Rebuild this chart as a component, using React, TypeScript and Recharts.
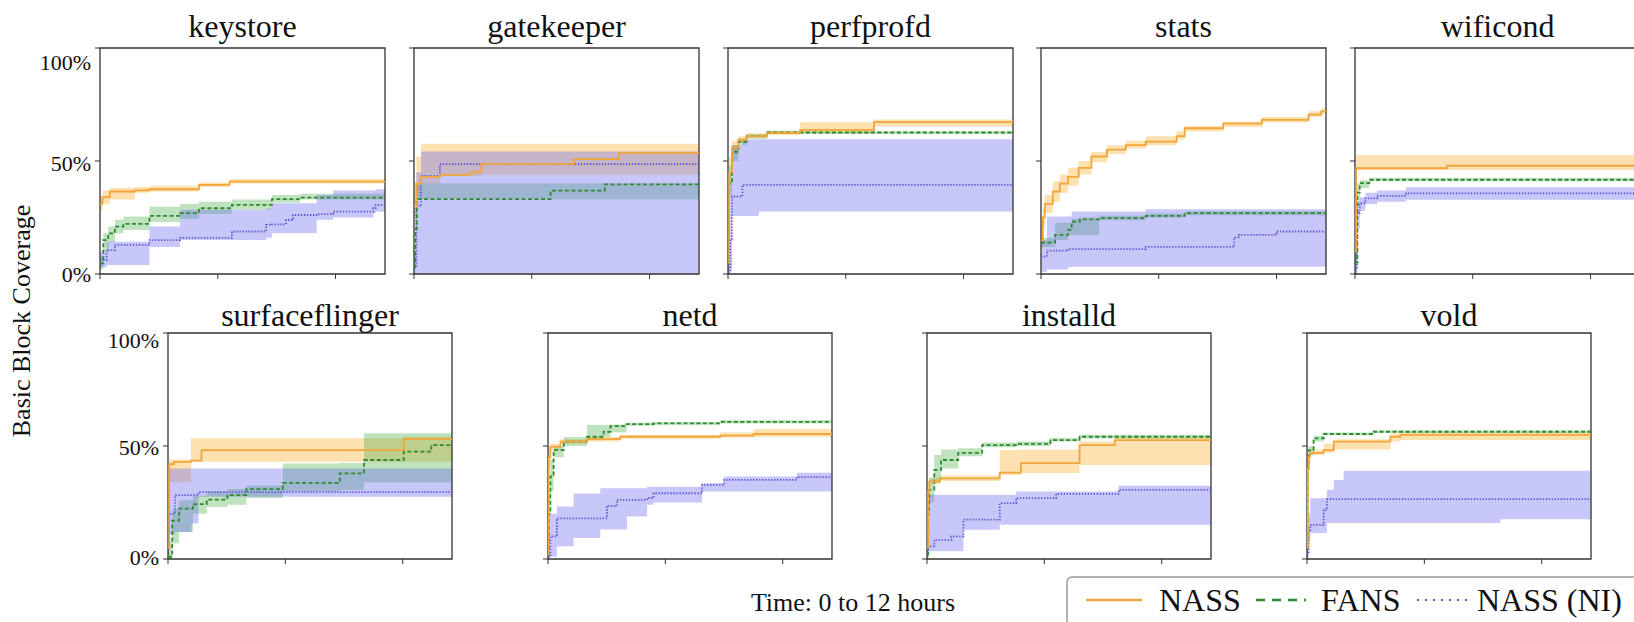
import React from "react";
import { ComposedChart, Line, Area, XAxis, YAxis, ReferenceArea } from "recharts";

// [hours, mean %, low %, high %]
type Pt = [number, number, number, number];

const SERIES = ["NASS", "FANS", "NASS (NI)"];
const X_TICKS = [0, 5, 10];
const Y_TICKS = [0, 50, 100];
const X_MAX = 12.1;

const KEYSTORE_NASS: Pt[] = [[0, 31, 28, 34], [0.1, 34, 31, 37], [0.42, 36.5, 33, 38], [1.48, 37, 36, 38.5], [2.1, 37.5, 36.5, 39], [4.2, 39.4, 38.5, 40.5], [5.5, 40.9, 40, 42], [12.1, 41.2, 40.3, 42.3]];
const KEYSTORE_FANS: Pt[] = [[0, 4.7, 2, 8], [0.14, 15, 10, 18], [0.35, 18, 14, 21], [0.63, 21, 18, 24], [0.99, 22.2, 19.5, 25.4], [2.1, 25.7, 23, 29.8], [3.4, 26.9, 24.5, 31], [4.2, 29.1, 26.5, 32], [5.6, 30.6, 28.5, 33], [7.3, 33.1, 31.5, 35], [8.5, 33.8, 33, 35.5], [12.1, 33.8, 33, 35.8]];
const KEYSTORE_NI: Pt[] = [[0, 6.2, 3, 10], [0.28, 10.6, 4, 14.3], [0.63, 12.9, 4, 14.3], [2.1, 15, 12, 21], [3.4, 16, 15, 28.4], [5.6, 18.8, 15, 28.4], [7.05, 21.7, 16, 29], [7.3, 22, 18, 31.3], [7.9, 23.9, 18, 31.3], [8.2, 26.1, 18, 31.3], [9.2, 26.5, 24, 35], [9.9, 27.6, 25, 36.9], [11.6, 29.1, 26.9, 36.9], [11.7, 30.6, 27.5, 37.5], [12.1, 30.6, 27.5, 37.5]];

const GATEKEEPER_NASS: Pt[] = [[0, 30, 25, 40], [0.1, 40, 35, 52], [0.3, 43, 40, 57.6], [1.1, 43.9, 43.4, 57.6], [2.4, 45, 43.4, 57.6], [2.85, 48.7, 43.9, 57.6], [6.8, 50.8, 43.9, 57.6], [8.7, 53.5, 43.9, 57.6], [12.1, 53.5, 43.9, 57.6]];
const GATEKEEPER_FANS: Pt[] = [[0, 3, 0, 10], [0.05, 20, 10, 33], [0.12, 33.1, 33.1, 40.2], [5.8, 36.9, 33.1, 40.2], [8.1, 39.7, 33.1, 40.2], [12.1, 39.7, 33.1, 40.2]];
const GATEKEEPER_NI: Pt[] = [[0, 3, 0, 10], [0.1, 30, 0, 45], [0.3, 43.4, 0, 54.2], [1.1, 48.6, 0, 54.2], [12.1, 48.6, 0, 54.2]];

const PERFPROFD_NASS: Pt[] = [[0, 5, 0, 20], [0.05, 45, 40, 52], [0.17, 56, 53, 59], [0.44, 59.4, 58, 61], [0.79, 61, 60, 62.3], [1.66, 62.3, 61.5, 63.5], [3.06, 63.8, 62.3, 67.2], [6.2, 67.2, 65.3, 68.4], [12.1, 68, 65.5, 68.6]];
const PERFPROFD_FANS: Pt[] = [[0, 5, 0, 15], [0.05, 40, 35, 48], [0.17, 54, 50, 57], [0.44, 58.5, 57, 60], [0.79, 61, 60, 62], [1.66, 62.6, 62, 63.2], [12.1, 62.6, 62, 63.2]];
const PERFPROFD_NI: Pt[] = [[0, 1, 0, 5], [0.1, 15, 2, 40], [0.17, 34.3, 25.7, 57], [0.61, 39.4, 25.7, 59.6], [1.31, 39.4, 27.6, 59.6], [12.1, 39.4, 27.6, 59.6]];

const STATS_NASS: Pt[] = [[0, 15, 12, 18], [0.08, 25, 21, 29], [0.16, 31, 27, 35], [0.5, 36.5, 32, 41], [0.8, 40, 36, 44], [1.15, 43, 39, 47], [1.6, 47, 44, 50], [2.14, 52, 49.5, 54], [2.8, 55, 53, 57], [3.6, 57, 55.5, 59], [4.45, 58.6, 57, 61], [5.76, 61, 59.5, 63], [6.1, 64.5, 63, 65.5], [7.74, 66.5, 65, 67.5], [9.38, 68.2, 67, 69.5], [11.36, 70.5, 69.5, 72], [11.9, 72, 71, 73.5], [12.1, 72, 71, 73.5]];
const STATS_FANS: Pt[] = [[0, 13.9, 12, 16], [0.6, 17.3, 15, 22.7], [1.15, 19.5, 17.3, 22.7], [1.3, 23.2, 17.3, 24.5], [1.65, 24.2, 17.3, 25], [2.47, 24.7, 23.8, 25.8], [4.45, 25.7, 25, 26.8], [6.1, 26.9, 26, 27.8], [12.1, 28, 27, 29]];
const STATS_NI: Pt[] = [[0, 7.7, 1, 15], [0.25, 10.3, 2, 25.4], [1.15, 11, 3, 25.4], [1.3, 11, 3.2, 27.6], [4.45, 12, 3.2, 28.7], [8.2, 16.2, 3.2, 28.7], [8.4, 17.3, 3.2, 28.7], [10, 18.8, 3.2, 28.7], [12.1, 19.5, 3.2, 28.7]];

const WIFICOND_NASS: Pt[] = [[0, 10, 5, 20], [0.05, 46.8, 46, 52.7], [3.9, 47.9, 46, 52.7], [12.1, 47.9, 46, 52.7]];
const WIFICOND_FANS: Pt[] = [[0, 5, 0, 15], [0.1, 36, 30, 40], [0.2, 40.2, 38, 41.5], [0.61, 41.7, 41, 42.5], [12.1, 42, 41.2, 42.7]];
const WIFICOND_NI: Pt[] = [[0, 2, 0, 10], [0.08, 27, 20, 32], [0.2, 31.3, 28, 34], [0.44, 33.5, 31, 36], [0.94, 34.6, 32, 37], [2.17, 35.7, 32.8, 38.4], [12.1, 36, 32.8, 38.4]];

const SURFACEFLINGER_NASS: Pt[] = [[0, 5, 0, 30], [0.05, 42, 34, 44], [0.25, 43, 34, 44], [0.98, 43.5, 43, 53.4], [1.43, 48.2, 43, 53.4], [10.04, 53, 43, 54.2], [12.1, 53, 43, 54.2]];
const SURFACEFLINGER_FANS: Pt[] = [[0, 1, 0, 8], [0.18, 17, 7, 22], [0.47, 22.3, 12, 26], [1.06, 24.3, 20, 28], [1.65, 26.3, 23, 30], [2.53, 28.3, 24, 31], [3.34, 30.9, 27, 32.5], [4.89, 33.7, 30, 42.3], [7.32, 37.9, 30.5, 42.5], [8.35, 43.8, 34, 55.6], [10.04, 47.5, 34, 55.6], [11.22, 50.4, 34, 55.6], [12.1, 50.4, 34, 55.6]];
const SURFACEFLINGER_NI: Pt[] = [[0, 5, 0, 15], [0.05, 20, 11, 40], [0.3, 28.3, 12, 40], [1.0, 28.3, 15.7, 40], [1.3, 29.6, 27.5, 40], [12.1, 29.6, 27.5, 40]];

const NETD_NASS: Pt[] = [[0, 2, 0, 20], [0.03, 45, 40, 49], [0.1, 49.7, 48, 51], [0.53, 51.9, 51, 53], [1.66, 53, 52, 54], [3.08, 54.1, 53.3, 55], [7.34, 54.6, 53.8, 56], [8.76, 55.3, 54, 57.5], [12.1, 55.9, 54.5, 58]];
const NETD_FANS: Pt[] = [[0, 2, 0, 10], [0.05, 20, 10, 30], [0.1, 36.5, 30, 44], [0.24, 48.2, 45, 50], [0.67, 51.9, 50, 54], [1.66, 54.1, 52.5, 59.3], [2.37, 56.3, 54, 59.3], [2.66, 58.8, 56, 59.5], [3.35, 59.7, 59, 60.3], [4.5, 60, 59.4, 60.6], [7.34, 60.7, 60, 61.4], [12.1, 61.2, 60.5, 62]];
const NETD_NI: Pt[] = [[0, 1, 0, 5], [0.1, 10, 1, 20], [0.38, 18, 5.6, 23.2], [1.09, 18, 9.3, 29], [2.23, 18, 13, 31.3], [2.51, 23.5, 13, 31.3], [2.94, 26.2, 13, 31.3], [3.37, 26.2, 18.8, 31.3], [4.22, 27, 24, 32], [4.5, 29.1, 25, 32], [6.56, 32.8, 29.9, 33.5], [7.5, 35, 29.9, 36.5], [10.6, 36.2, 29.9, 38.2], [12.1, 36.2, 31.3, 38.2]];

const INSTALLD_NASS: Pt[] = [[0, 5, 0, 20], [0.05, 30, 25, 34], [0.1, 34.3, 33, 36], [0.55, 35.7, 34.5, 37], [3.1, 38.2, 37.2, 48.2], [4, 42.4, 38, 48.5], [6.5, 50.4, 41.6, 52], [8, 52.6, 41.6, 54], [12.1, 52.9, 41.6, 54.5]];
const INSTALLD_FANS: Pt[] = [[0, 2, 0, 10], [0.05, 20, 10, 28], [0.09, 30.6, 25, 36], [0.31, 39.4, 34, 46], [0.6, 43.8, 40, 48.5], [1.33, 47, 45.5, 49], [2.35, 50.4, 49.5, 51.5], [3.8, 50.9, 50, 52], [5.26, 52.6, 52, 53.5], [6.5, 54.1, 53.3, 55], [12.1, 54.9, 54, 55.8]];
const INSTALLD_NI: Pt[] = [[0, 3, 0, 28.4], [0.05, 5.6, 3.4, 28.4], [0.31, 8.5, 3.4, 28.4], [1.04, 10, 3.4, 28.4], [1.55, 17.4, 12.9, 28.4], [3.1, 24.7, 15.1, 28.4], [3.8, 26.9, 15.1, 29.9], [5.5, 28.8, 15.1, 29.9], [8.16, 30.6, 15.1, 32.4], [12.1, 30.6, 15.1, 32.4]];

const VOLD_NASS: Pt[] = [[0, 5, 0, 20], [0.03, 40, 30, 46], [0.07, 45.3, 43, 47], [0.14, 47, 46, 48.5], [0.71, 48.2, 47, 51], [1.14, 51.9, 48.5, 53], [3.55, 54.1, 52, 55.5], [3.98, 54.9, 52.6, 56], [12.1, 55, 52.6, 56.2]];
const VOLD_FANS: Pt[] = [[0, 5, 0, 15], [0.03, 40, 35, 45], [0.07, 48.2, 46, 50], [0.28, 53.4, 52, 54.5], [0.71, 55.3, 54.8, 56], [2.84, 56.3, 55.8, 57], [12.1, 56.6, 56, 57.2]];
const VOLD_NI: Pt[] = [[0, 2, 0, 10], [0.07, 12.9, 8, 20], [0.14, 15.1, 11.5, 26.9], [0.71, 21.8, 11.5, 26.9], [0.85, 26.5, 15.9, 30.6], [1.14, 26.5, 15.9, 35], [1.56, 26.5, 15.9, 39], [8.24, 26.5, 17.6, 39], [12.1, 26.5, 17.6, 39]];

const TOP_NAMES = ["keystore", "gatekeeper", "perfprofd", "stats", "wificond"];
const BOTTOM_NAMES = ["surfaceflinger", "netd", "installd", "vold"];

const PANEL_DATA: Record<string, Pt[][]> = {
  keystore: [KEYSTORE_NASS, KEYSTORE_FANS, KEYSTORE_NI],
  gatekeeper: [GATEKEEPER_NASS, GATEKEEPER_FANS, GATEKEEPER_NI],
  perfprofd: [PERFPROFD_NASS, PERFPROFD_FANS, PERFPROFD_NI],
  stats: [STATS_NASS, STATS_FANS, STATS_NI],
  wificond: [WIFICOND_NASS, WIFICOND_FANS, WIFICOND_NI],
  surfaceflinger: [SURFACEFLINGER_NASS, SURFACEFLINGER_FANS, SURFACEFLINGER_NI],
  netd: [NETD_NASS, NETD_FANS, NETD_NI],
  installd: [INSTALLD_NASS, INSTALLD_FANS, INSTALLD_NI],
  vold: [VOLD_NASS, VOLD_FANS, VOLD_NI],
};

const SERIF = "'Liberation Serif', 'DejaVu Serif', serif";
const FRAME = "#333";
const LINE_COLORS = ["#f2a53a", "#2f8a2f", "#5b4fd6"];
const BAND_COLORS = ["rgba(250, 180, 60, 0.4)", "rgba(60, 170, 60, 0.33)", "rgba(100, 100, 240, 0.36)"];
const DASHES = [undefined, "4 2.5", "1.3 1.7"];

const TOP_ROW = { top: 48, height: 226, width: 285, lefts: [100, 414, 728, 1041, 1355], titleY: 37, dy: { 0: 0, 50: 2, 100: 9 } as Record<number, number> };
const BOTTOM_ROW = { top: 333, height: 226, width: 284, lefts: [168, 548, 927, 1307], titleY: 326, dy: { 0: -2, 50: 1, 100: 2.5 } as Record<number, number> };

const YW = 60;
const TOPM = 4;
const RIGHTM = 4;
const BOTM = 14;
const XH = 10;

const toRows = (pts: Pt[]) => pts.map(([t, m, lo, hi]) => ({ t, m, r: [lo, hi] }));

const emptyTick = () => <g />;

function makeYTick(dys: Record<number, number>) {
  return (props: any) => {
    const { x, y, payload } = props;
    return (
      <text x={x - 2} y={y + (dys[payload.value] ?? 0)} textAnchor="end" dominantBaseline="central" fontSize={22} fontFamily={SERIF} fill="#111">
        {payload.value}%
      </text>
    );
  };
}

function Panel({ name, left, top, width, height, yTick }: { name: string; left: number; top: number; width: number; height: number; yTick: any }) {
  const series = PANEL_DATA[name].map(toRows);
  return (
    <div style={{ position: "absolute", left: left - YW, top: top - TOPM }}>
      <ComposedChart width={YW + width + RIGHTM} height={TOPM + height + XH + BOTM} margin={{ top: TOPM, right: RIGHTM, bottom: BOTM, left: 0 }}>
        <XAxis type="number" dataKey="t" domain={[0, X_MAX]} ticks={X_TICKS} allowDataOverflow height={XH} tickSize={5} tickLine={{ stroke: FRAME }} axisLine={false} tick={emptyTick} />
        <YAxis type="number" domain={[0, 100]} ticks={Y_TICKS} allowDataOverflow width={YW} tickSize={5} tickLine={{ stroke: FRAME }} axisLine={false} tick={yTick} />
        {series.map((rows, i) => (
          <Area key={"band" + i} data={rows} dataKey="r" type="stepAfter" fill={BAND_COLORS[i]} fillOpacity={1} stroke="none" isAnimationActive={false} />
        ))}
        {[2, 1, 0].map((i) => (
          <Line key={"line" + i} data={series[i]} dataKey="m" name={SERIES[i]} type="stepAfter" stroke={LINE_COLORS[i]} strokeWidth={1.8} strokeDasharray={DASHES[i]} dot={false} activeDot={false} isAnimationActive={false} />
        ))}
        <ReferenceArea x1={0} x2={X_MAX} y1={0} y2={100} fill="none" stroke={FRAME} strokeWidth={1.3} ifOverflow="visible" />
      </ComposedChart>
    </div>
  );
}

export default function App() {
  const topTick = makeYTick(TOP_ROW.dy);
  const bottomTick = makeYTick(BOTTOM_ROW.dy);
  return (
    <div style={{ position: "fixed", left: 0, top: 0, width: 1634, height: 622, background: "#fff", overflow: "hidden" }}>
      {TOP_NAMES.map((n, i) => (
        <Panel key={n} name={n} left={TOP_ROW.lefts[i]} top={TOP_ROW.top} width={TOP_ROW.width} height={TOP_ROW.height} yTick={i === 0 ? topTick : emptyTick} />
      ))}
      {BOTTOM_NAMES.map((n, i) => (
        <Panel key={n} name={n} left={BOTTOM_ROW.lefts[i]} top={BOTTOM_ROW.top} width={BOTTOM_ROW.width} height={BOTTOM_ROW.height} yTick={i === 0 ? bottomTick : emptyTick} />
      ))}
      <svg width={1634} height={622} style={{ position: "absolute", left: 0, top: 0, pointerEvents: "none" }} fontFamily={SERIF}>
        {TOP_NAMES.map((n, i) => (
          <text key={n} x={TOP_ROW.lefts[i] + TOP_ROW.width / 2} y={TOP_ROW.titleY} textAnchor="middle" fontSize={32} fill="#111">
            {n}
          </text>
        ))}
        {BOTTOM_NAMES.map((n, i) => (
          <text key={n} x={BOTTOM_ROW.lefts[i] + BOTTOM_ROW.width / 2} y={BOTTOM_ROW.titleY} textAnchor="middle" fontSize={32} fill="#111">
            {n}
          </text>
        ))}
        <text transform="translate(30,321) rotate(-90)" textAnchor="middle" fontSize={26} fill="#111">
          Basic Block Coverage
        </text>
        <text x={853} y={611} textAnchor="middle" fontSize={26} fill="#111">
          Time: 0 to 12 hours
        </text>
        <rect x={1067} y={577} width={620} height={90} rx={5} fill="#fff" stroke="#9a9a9a" strokeWidth={1.5} />
        <line x1={1086} x2={1142} y1={600} y2={600} stroke={LINE_COLORS[0]} strokeWidth={2.5} />
        <text x={1159} y={611} fontSize={32} fill="#111">{SERIES[0]}</text>
        <line x1={1256} x2={1306} y1={600} y2={600} stroke={LINE_COLORS[1]} strokeWidth={2.5} strokeDasharray="9 7" />
        <text x={1321} y={611} fontSize={32} fill="#111">{SERIES[1]}</text>
        <line x1={1417} x2={1467} y1={600} y2={600} stroke={LINE_COLORS[2]} strokeWidth={2} strokeDasharray="2 6" />
        <text x={1477} y={611} fontSize={32} fill="#111">{SERIES[2]}</text>
      </svg>
    </div>
  );
}
